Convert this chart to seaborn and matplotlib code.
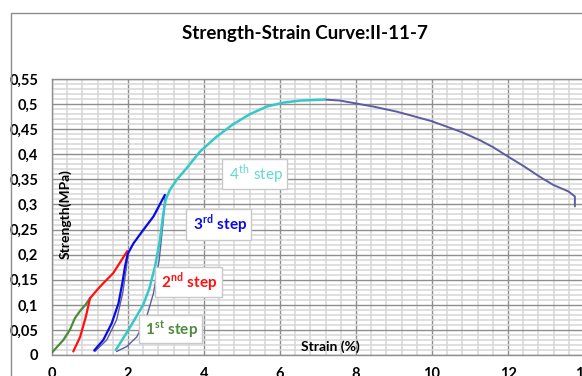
import numpy as np
import pandas as pd
import matplotlib
matplotlib.use("Agg")
import matplotlib.pyplot as plt
import matplotlib.patches as mpatches
from matplotlib.ticker import MultipleLocator, FuncFormatter
import seaborn as sns

# ---- data ----
step1_x = [0.0, 0.30, 0.47, 0.60, 0.74, 0.88, 1.00]
step1_y = [0.005, 0.030, 0.050, 0.073, 0.088, 0.100, 0.113]

step2_x = [0.56, 0.74, 0.89, 1.00, 1.26, 1.61, 1.98]
step2_y = [0.007, 0.036, 0.076, 0.113, 0.136, 0.163, 0.207]

step3_x = [1.11, 1.35, 1.57, 1.75, 1.85, 1.92, 1.99, 2.14, 2.40, 2.67, 2.97]
step3_y = [0.009, 0.030, 0.063, 0.103, 0.143, 0.176, 0.201, 0.222, 0.249, 0.276, 0.319]

step4_x = [1.68, 2.01, 2.20, 2.40, 2.56, 2.71, 2.84, 2.93, 2.99, 3.10, 3.28, 3.54, 3.89,
           4.33, 4.77, 5.21, 5.65, 6.09, 6.53, 7.18]
step4_y = [0.010, 0.050, 0.074, 0.100, 0.132, 0.176, 0.229, 0.282, 0.309, 0.329, 0.349,
           0.372, 0.405, 0.435, 0.460, 0.480, 0.495, 0.503, 0.507, 0.509]

# base (raw) curve segments, thin slate line
base_a_x = [1.13, 1.44, 1.70, 1.86, 1.95, 2.00]
base_a_y = [0.007, 0.030, 0.070, 0.123, 0.170, 0.200]
base_b_x = [1.70, 1.97, 2.23, 2.49, 2.67, 2.82, 2.93, 2.97]
base_b_y = [0.007, 0.017, 0.036, 0.076, 0.123, 0.189, 0.269, 0.315]
tail_x = [7.18, 7.58, 8.02, 8.46, 9.07, 9.51, 9.99, 10.39, 10.82, 11.26, 11.61,
          12.01, 12.40, 12.84, 13.19, 13.59, 13.76, 13.76]
tail_y = [0.509, 0.507, 0.501, 0.495, 0.485, 0.476, 0.466, 0.455, 0.443, 0.428, 0.414,
          0.395, 0.377, 0.355, 0.339, 0.326, 0.316, 0.296]

x_ticks = [0, 2, 4, 6, 8, 10, 12, 14]
y_ticks = [0, 0.05, 0.1, 0.15, 0.2, 0.25, 0.3, 0.35, 0.4, 0.45, 0.5, 0.55]

title = "Strength-Strain Curve:II-11-7"
x_label = "Strain (%)"
y_label = "Strength(MPa)"

# ---- style ----
sns.set_theme(style="white")
plt.rcParams['font.family'] = ['Lato', 'DejaVu Sans']
plt.rcParams['mathtext.fontset'] = 'custom'
plt.rcParams['mathtext.bf'] = 'Lato:bold'
plt.rcParams['mathtext.rm'] = 'Lato'

W, H = 582, 376
fig = plt.figure(figsize=(W / 100, H / 100), dpi=100)
fig.patch.set_facecolor("white")

x0_px, x14_px = 52, 584
ytop_px, ybot_px = 79, 355
ax = fig.add_axes([x0_px / W, (H - ybot_px) / H, (x14_px - x0_px) / W, (ybot_px - ytop_px) / H])

# outer chart frame
fig.patches.append(mpatches.Rectangle((11 / W, -0.2), 1.2, (H - 13) / H + 0.2,
                                      transform=fig.transFigure, fill=False,
                                      edgecolor="#8c8c8c", lw=1.0, zorder=0))

c_green = "#4e8a3c"
c_red = "#ff1010"
c_blue = "#0a0ae6"
c_cyan = "#36c8c8"
c_base = "#5c5ca0"

def draw(xs, ys, color, lw, z):
    df = pd.DataFrame({"x": xs, "y": ys})
    sns.lineplot(data=df, x="x", y="y", ax=ax, color=color, lw=lw, sort=False,
                 estimator=None, zorder=z)

draw(base_a_x, base_a_y, c_base, 1.0, 3)
draw(base_b_x, base_b_y, c_base, 1.0, 3)
draw(tail_x, tail_y, c_base, 1.4, 3)
draw(step1_x, step1_y, c_green, 1.6, 4)
draw(step2_x, step2_y, c_red, 1.6, 4)
draw(step3_x, step3_y, c_blue, 1.6, 4)
draw(step4_x, step4_y, c_cyan, 1.8, 4)

ax.set_xlim(0, 14)
ax.set_ylim(0, 0.55)
ax.set_xticks(x_ticks)
ax.set_yticks(y_ticks)
ax.xaxis.set_minor_locator(MultipleLocator(0.4))
ax.yaxis.set_minor_locator(MultipleLocator(0.01))
fmt = FuncFormatter(lambda v, p: f"{v:g}".replace(".", ","))
ax.xaxis.set_major_formatter(fmt)
ax.yaxis.set_major_formatter(fmt)
ax.grid(which="minor", color="#d6d6d6", lw=1.1, zorder=0)
ax.grid(which="major", color="#8e8e8e", lw=1.0, zorder=1)
ax.set_axisbelow(True)
ax.tick_params(which="both", length=0)
ax.tick_params(axis="x", pad=9, labelsize=10.5)
ax.tick_params(axis="y", pad=10, labelsize=10.5)
for lab in ax.get_xticklabels() + ax.get_yticklabels():
    lab.set_fontweight("bold")
    lab.set_color("black")
for s in ax.spines.values():
    s.set_color("#8e8e8e")
    s.set_linewidth(1.0)
ax.set_xlabel("")
ax.set_ylabel("")

# axis titles inside plot area
ax.text((65 - x0_px) / (x14_px - x0_px), (ybot_px - 214) / (ybot_px - ytop_px), y_label,
        transform=ax.transAxes, rotation=90, ha="center", va="center",
        fontsize=10, fontweight="bold", color="black", zorder=6)
ax.text((330 - x0_px) / (x14_px - x0_px), (ybot_px - 347) / (ybot_px - ytop_px), x_label,
        transform=ax.transAxes, ha="center", va="center",
        fontsize=10, fontweight="bold", color="black", zorder=6)

fig.text(305 / W, 1 - 33 / H, title, ha="center", va="center", fontsize=13.5,
         fontweight="bold", color="black")

box = dict(boxstyle="square,pad=0.22", facecolor="white", edgecolor="#c8c8c8", lw=1.0)
ax.text(3.12, 0.052, r" 1$^{\mathbf{st}}$ step ", color=c_green, fontsize=11,
        fontweight="bold", ha="center", va="center", bbox=box, zorder=7)
ax.text(3.59, 0.146, r" 2$^{\mathbf{nd}}$ step ", color=c_red, fontsize=11,
        fontweight="bold", ha="center", va="center", bbox=box, zorder=7)
ax.text(4.39, 0.260, r" 3$^{\mathbf{rd}}$ step ", color=c_blue, fontsize=11,
        fontweight="bold", ha="center", va="center", bbox=box, zorder=7)
ax.text(5.33, 0.361, r" 4$^{\mathrm{th}}$ step ", color="#5fd9cf", fontsize=11,
        ha="center", va="center", bbox=box, zorder=7)

fig.savefig("out.png", dpi=100, facecolor="white")
